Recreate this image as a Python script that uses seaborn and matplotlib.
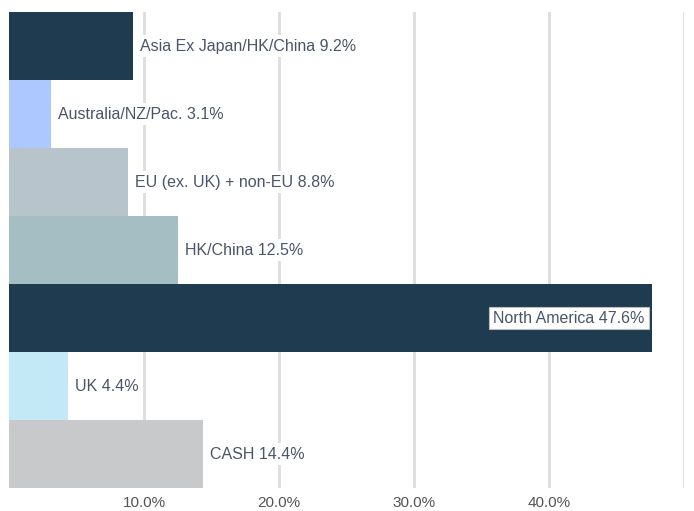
import numpy as np
import pandas as pd
import matplotlib.pyplot as plt
import seaborn as sns

# region allocation (%)
regions = ['Asia Ex Japan/HK/China', 'Australia/NZ/Pac.', 'EU (ex. UK) + non-EU',
           'HK/China', 'North America', 'UK', 'CASH']
weights = [9.2, 3.1, 8.8, 12.5, 47.6, 4.4, 14.4]
colors = ['#1f3b50', '#adc8fe', '#b8c4cc', '#a5bec3', '#1f3b50', '#c3e8f6', '#c8c9ca']
ticks = [10, 20, 30, 40, 50]
tick_labels = ['10.0%', '20.0%', '30.0%', '40.0%', '']

df = pd.DataFrame({'region': regions, 'weight': weights})

sns.set_style('white')
plt.rcParams['font.family'] = ['Liberation Sans', 'DejaVu Sans']

fig = plt.figure(figsize=(6.94, 5.11), dpi=100)
ax = fig.add_axes([9/694, 23/511, 675/694, 476/511])

sns.barplot(data=df, x='weight', y='region', hue='region', palette=colors,
            orient='h', width=1, legend=False, saturation=1, ax=ax, zorder=1,
            edgecolor='none')

ax.set_xlim(0, 50)
ax.set_xticks(ticks)
ax.set_xticklabels(tick_labels)
ax.set_yticks([])
ax.set_xlabel('')
ax.set_ylabel('')
for s in ax.spines.values():
    s.set_visible(False)
for t in ticks:
    ax.axvline(t, color='#dddddd', lw=2, zorder=0)
ax.tick_params(axis='x', length=0, labelsize=11, labelcolor='#555555', pad=6)

for i, (r, w) in enumerate(zip(regions, weights)):
    label = f'{r} {w}%'
    if w > 40:
        ax.annotate(label, (w, i), xytext=(-5, 0), textcoords='offset points',
                    ha='right', va='center', fontsize=11.5, color='#4a5568',
                    bbox=dict(boxstyle='square,pad=0.25', fc='white', ec='#bbbbbb', lw=0.8),
                    zorder=3)
    else:
        ax.annotate(label, (w, i), xytext=(5, 0), textcoords='offset points',
                    ha='left', va='center', fontsize=11.5, color='#4a5568',
                    bbox=dict(boxstyle='square,pad=0.2', fc='white', ec='none'),
                    zorder=3)

fig.savefig('out.png', dpi=100)
